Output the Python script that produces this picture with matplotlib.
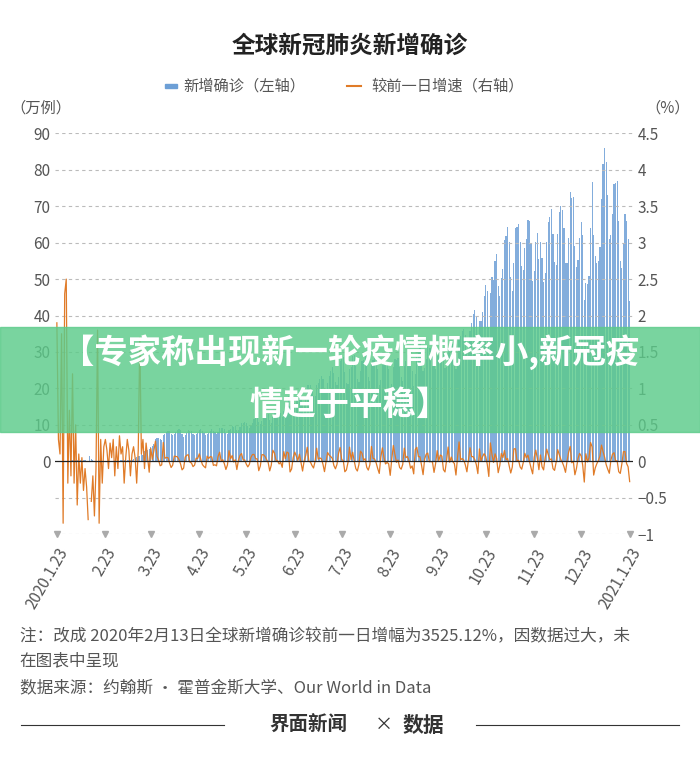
import numpy as np
import matplotlib
matplotlib.use("Agg")
import matplotlib.pyplot as plt
from matplotlib.patches import Rectangle
import datetime as dt

plt.rcParams['font.family'] = ['Noto Sans CJK SC', 'DejaVu Sans']

# daily new confirmed cases (10k), 2020-01-23 .. 2021-01-23, one row per week
cases_weeks = [
    [0.03,0.03,0.07,0.07,0.08,0.15,0.17],
    [0.2,0.2,0.26,0.28,0.32,0.39,0.37],
    [0.37,0.34,0.27,0.31,0.25,0.2,0.21],
    [1.52,0.51,0.26,0.21,0.2,0.19,0.18],
    [0.09,0.1,0.1,0.17,0.08,0.1,0.11],
    [0.12,0.14,0.18,0.19,0.2,0.18,0.23],
    [0.27,0.36,0.4,0.38,0.4,0.44,0.48],
    [0.7,1.0,1.1,1.4,1.5,1.9,1.7],
    [2.9,3.2,3.2,3.4,4.0,4.1,4.7],
    [6.0,6.4,6.5,6.1,5.8,7.3,7.6],
    [8.0,8.4,8.2,7.5,7.1,7.6,8.1],
    [8.6,8.8,8.5,7.5,6.8,7.2,7.8],
    [8.5,8.4,8.2,7.6,7.2,7.5,7.8],
    [8.6,8.8,8.4,7.8,7.1,7.6,7.9],
    [8.4,8.9,8.4,8.0,7.5,8.0,9.0],
    [9.0,9.2,8.9,7.9,7.5,8.6,8.9],
    [9.6,9.5,9.7,8.6,8.7,9.4,10.4],
    [10.6,10.8,10.4,9.6,9.2,9.7,10.6],
    [11.6,12.0,12.4,10.8,10.1,11.0,12.0],
    [12.8,13.1,12.9,11.2,10.6,12.2,13.6],
    [13.8,13.9,13.4,13.2,12.1,13.7,14.2],
    [16.0,17.8,15.2,13.6,14.3,16.1,17.2],
    [17.4,19.1,18.7,16.2,16.3,17.6,21.0],
    [21.0,20.8,19.6,17.8,17.8,21.0,21.6],
    [22.6,23.4,22.5,19.3,19.2,21.5,23.3],
    [24.8,25.8,24.3,21.8,20.9,23.2,27.6],
    [28.2,28.5,24.4,21.5,21.1,25.2,25.8],
    [29.0,29.1,26.2,22.7,21.7,24.7,27.4],
    [27.8,28.8,26.4,23.2,22.1,26.6,27.7],
    [28.6,28.0,25.2,21.0,22.2,26.3,27.7],
    [26.7,26.3,25.4,20.5,21.2,25.8,28.2],
    [27.8,28.3,25.9,23.1,22.1,26.1,27.4],
    [29.2,29.4,26.6,24.9,20.6,23.9,28.5],
    [30.3,32.2,30.5,24.9,25.7,28.2,31.4],
    [31.2,31.1,30.8,26.1,25.3,29.0,29.2],
    [31.7,34.0,30.1,25.7,26.0,31.1,30.7],
    [32.5,32.3,31.3,25.4,26.7,33.8,34.5],
    [35.8,36.4,34.6,29.6,30.1,35.7,38.0],
    [40.4,41.4,39.6,32.9,38.5,38.6,41.1],
    [45.4,48.5,46.6,36.9,46.2,50.6,49.8],
    [54.9,57.0,48.1,45.3,50.2,52.8,60.6],
    [61.8,64.2,60.3,50.6,46.6,54.5,63.9],
    [64.3,65.2,60.1,53.6,52.6,58.4,61.1],
    [66.3,65.9,59.8,49.5,52.2,60.2,62.6],
    [55.4,60.2,55.7,49.1,51.7,60.3,65.7],
    [67.1,69.3,62.4,54.6,53.8,62.4,68.3],
    [70.1,69.0,64.0,54.3,54.5,61.3,73.8],
    [72.3,72.4,59.0,53.2,55.3,61.3,65.8],
    [62.1,44.4,49.0,48.6,50.8,63.9,76.6],
    [62.1,56.4,54.5,55.1,58.9,72.0,81.5],
    [86.0,82.0,73.0,61.0,62.0,68.0,76.0],
    [76.5,77.0,66.0,55.0,53.0,60.0,68.0],
    [66.0,61.0,44.0],
]
# day-over-day growth (%-axis units) for the early period, Jan 23 - Mar 22 (None = excluded 2.13)
growth_early = [1.9,0.3,0.1,1.75,-0.85,2.3,2.5,-0.3,0.7,-0.2,1.2,-0.3,0.5,-0.6,
                0.1,-0.3,0.05,-0.4,-0.1,-0.35,-0.8,None,-0.55,-0.2,-0.75,-0.1,1.8,
                -0.85,0.3,-0.3,0.2,0.3,0.15,-0.1,0.25,0.05,0.3,-0.2,0.2,-0.1,0.35,
                0.1,0.2,-0.3,0.05,0.3,0.15,-0.2,0.1,0.2,0.05,-0.3,0.15,1.7,0.1,
                0.3,-0.1,0.25,0.05,-0.15]
tick_labels = ["2020.1.23","2.23","3.23","4.23","5.23","6.23","7.23","8.23",
               "9.23","10.23","11.23","12.23","2021.1.23"]

cases = np.array([v for w in cases_weeks for v in w])
n = len(cases)
growth = np.full(n, np.nan)
for i, g in enumerate(growth_early):
    growth[i] = np.nan if g is None else g
for i in range(len(growth_early), n):
    growth[i] = cases[i] / cases[i-1] - 1

start = dt.date(2020, 1, 23)
tick_pos = []
for lab in tick_labels:
    parts = lab.split(".")
    if len(parts) == 3:
        y, m, d = int(parts[0]), int(parts[1]), int(parts[2])
    else:
        m, d = int(parts[0]), int(parts[1])
        y = 2020
    tick_pos.append((dt.date(y, m, d) - start).days)

fig = plt.figure(figsize=(7, 7.62), dpi=100)
ax = fig.add_axes([0.079, 0.299, 0.825, 0.526])
ax2 = ax.twinx()
x = np.arange(n)
ax.bar(x, cases, width=0.75, color='#6d9fd6', alpha=0.85, zorder=2)
ax.set_xlim(-1, 368)
ax.set_ylim(-20, 90)
ax2.set_ylim(-1, 4.5)
ax2.plot(x, growth, color='#e07b28', lw=0.9, zorder=3)
ax.set_yticks(range(0, 91, 10))
ax2.set_yticks([-1,-0.5,0,0.5,1,1.5,2,2.5,3,3.5,4,4.5])
ax2.set_yticklabels(["−1","−0.5","0","0.5","1","1.5","2","2.5","3","3.5","4","4.5"])
for yv in np.arange(-1, 4.51, 0.5):
    if yv != 0:
        ax2.axhline(yv, color='#bbbbbb', lw=0.8, ls=(0, (3, 3)), zorder=0)
ax2.axhline(0, color='#222222', lw=0.9, zorder=4)
for a in (ax, ax2):
    for s in a.spines.values():
        s.set_visible(False)
    a.tick_params(length=0, labelsize=11, colors='#555555')
ax.set_xticks(tick_pos)
ax.set_xticklabels(tick_labels, rotation=60, ha='right', rotation_mode='anchor',
                   fontsize=11, color='#555555')
ax.tick_params(axis='x', pad=8)
ax2.plot(tick_pos, [-1]*len(tick_pos), 'v', color='#aaaaaa', ms=5, clip_on=False)

fig.text(0.5, 0.94, "全球新冠肺炎新增确诊", ha='center', va='center', fontsize=17,
         color='#222222', weight='bold')
fig.patches.append(Rectangle((0.235, 0.884), 0.018, 0.006, transform=fig.transFigure,
                             color='#6d9fd6'))
fig.text(0.262, 0.887, "新增确诊（左轴）", va='center', fontsize=11, color='#555555')
fig.add_artist(plt.Line2D([0.495, 0.515], [0.887, 0.887], transform=fig.transFigure,
                          color='#e07b28', lw=1.5))
fig.text(0.53, 0.887, "较前一日增速（右轴）", va='center', fontsize=11, color='#555555')
fig.text(0.015, 0.858, "（万例）", va='center', fontsize=11, color='#555555')
fig.text(0.985, 0.858, "（%）", va='center', ha='right', fontsize=11, color='#555555')

# green banner
fig.patches.append(Rectangle((0, 1-432/762), 1, 105/762, transform=fig.transFigure,
                             color='#5ccb8a', alpha=0.82, zorder=10))
fig.text(0.5, 1-352/762, "【专家称出现新一轮疫情概率小,新冠疫", ha='center', va='center',
         fontsize=24, color='white', weight='bold', zorder=11)
fig.text(0.5, 1-405/762, "情趋于平稳】", ha='center', va='center',
         fontsize=24, color='white', weight='bold', zorder=11)

fig.text(0.028, 1-637/762, "注：改成 2020年2月13日全球新增确诊较前一日增幅为3525.12%，因数据过大，未",
         va='center', fontsize=12, color='#555555')
fig.text(0.028, 1-661/762, "在图表中呈现", va='center', fontsize=12, color='#555555')
fig.text(0.028, 1-688/762, "数据来源：约翰斯 · 霍普金斯大学、Our World in Data", va='center',
         fontsize=12, color='#555555')
fig.add_artist(plt.Line2D([0.03, 0.32], [1-725/762]*2, transform=fig.transFigure,
                          color='#333333', lw=0.8))
fig.add_artist(plt.Line2D([0.68, 0.97], [1-725/762]*2, transform=fig.transFigure,
                          color='#333333', lw=0.8))
fig.text(0.385, 1-725/762, "界面新闻", va='center', fontsize=14, color='#333333', weight='bold')
fig.text(0.535, 1-725/762, "×", va='center', fontsize=13, color='#333333')
fig.text(0.575, 1-725/762, "数据", va='center', fontsize=15, color='#333333', weight='bold')

fig.savefig("out.png", dpi=100)
